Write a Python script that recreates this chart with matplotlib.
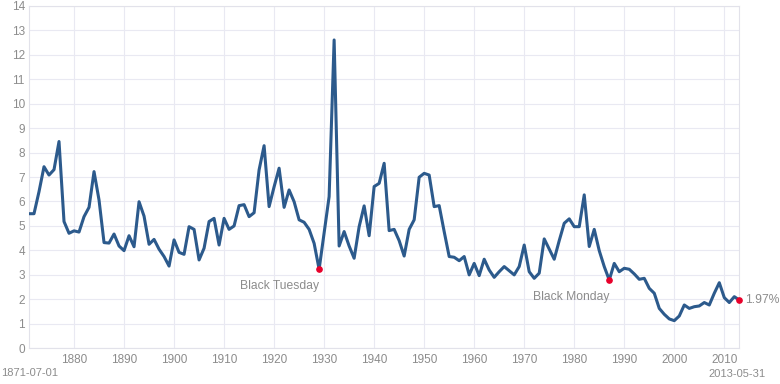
"""S&P 500 dividend yield by year, with crash annotations."""
import matplotlib
matplotlib.use("Agg")  # noqa: E402
import matplotlib.pyplot as plt
import numpy as np

years = list(range(1871, 2014))
yield_pct = [
    5.5, 5.5, 6.4, 7.42, 7.08, 7.3, 8.45, 5.18, 4.7,            # 1871-1879
    4.8, 4.75, 5.38, 5.76, 7.22, 6.06, 4.32, 4.3, 4.67, 4.18,   # 1880s
    3.99, 4.6, 4.15, 5.99, 5.4, 4.25, 4.45, 4.05, 3.75, 3.36,   # 1890s
    4.43, 3.92, 3.84, 4.97, 4.86, 3.61, 4.09, 5.18, 5.31, 4.22, # 1900s
    5.31, 4.86, 5.0, 5.83, 5.87, 5.38, 5.54, 7.29, 8.28, 5.79,  # 1910s
    6.6, 7.36, 5.76, 6.47, 5.99, 5.25, 5.15, 4.86, 4.29, 3.23,  # 1920s
    4.7, 6.2, 12.6, 4.18, 4.77, 4.18, 3.68, 4.97, 5.82, 4.6,    # 1930s
    6.61, 6.74, 7.56, 4.81, 4.86, 4.4, 3.77, 4.86, 5.25, 6.99,  # 1940s
    7.15, 7.08, 5.79, 5.83, 4.77, 3.75, 3.72, 3.58, 3.75, 3.0,  # 1950s
    3.47, 2.97, 3.64, 3.2, 2.9, 3.13, 3.34, 3.17, 3.0, 3.34,    # 1960s
    4.22, 3.13, 2.86, 3.07, 4.47, 4.05, 3.64, 4.4, 5.11, 5.29,  # 1970s
    4.97, 4.97, 6.27, 4.16, 4.86, 3.99, 3.34, 2.79, 3.47, 3.13, # 1980s
    3.27, 3.23, 3.04, 2.82, 2.86, 2.45, 2.25, 1.63, 1.39, 1.2,  # 1990s
    1.13, 1.32, 1.77, 1.63, 1.7, 1.73, 1.87, 1.77, 2.25, 2.68,  # 2000s
    2.07, 1.87, 2.11, 1.97,                                      # 2010-2013
]
events = {1929: "Black Tuesday", 1987: "Black Monday"}
start_label = "1871-07-01"
end_label = "2013-05-31"

LINE = "#2c5a8c"
DOT = "#e8002a"
TEXT = "#8c8c8c"
GRID = "#e9e9f2"

plt.rcParams["font.family"] = ["Liberation Sans", "DejaVu Sans"]

fig = plt.figure(figsize=(7.8, 3.84), dpi=100)
ax = fig.add_axes([29 / 780, 1 - 348.3 / 384, 710.3 / 780, 342.6 / 384])

ax.plot(years, yield_pct, color=LINE, linewidth=2.2, solid_joinstyle="round", zorder=3)

for yr, name in events.items():
    v = yield_pct[years.index(yr)]
    ax.plot(yr, v, "o", color=DOT, markersize=3.8, zorder=4)
    ax.annotate(name, (yr, v), xytext=(0, -12), textcoords="offset points",
                ha="right", va="center", color=TEXT, fontsize=8.7)

last = yield_pct[-1]
ax.plot(years[-1], last, "o", color=DOT, markersize=3.8, zorder=4, clip_on=False)
ax.annotate(f"{last:.2f}%", (years[-1], last), xytext=(4.5, 0), textcoords="offset points",
            ha="left", va="center", color=TEXT, fontsize=8.7, annotation_clip=False)

ax.set_xlim(years[0], years[-1])
ax.set_ylim(0, 14)
ax.set_yticks(np.arange(0, 15, 1))
ax.set_xticks(np.arange(1880, 2011, 10))
ax.grid(True, color=GRID, linewidth=0.8)
ax.set_axisbelow(True)
ax.tick_params(length=0, labelsize=8.5, labelcolor=TEXT)
ax.tick_params(axis="y", pad=3)
ax.tick_params(axis="x", pad=4)
for side in ["left", "right", "top", "bottom"]:
    ax.spines[side].set_color("#e2e2ea")
    ax.spines[side].set_linewidth(0.8)

fig.text(1 / 780, 1 - 373 / 384, start_label, ha="left", va="center", color=TEXT, fontsize=8)
fig.text(766 / 780, 1 - 374 / 384, end_label, ha="right", va="center", color=TEXT, fontsize=8)

fig.savefig("out.png", dpi=100)
plt.close(fig)
